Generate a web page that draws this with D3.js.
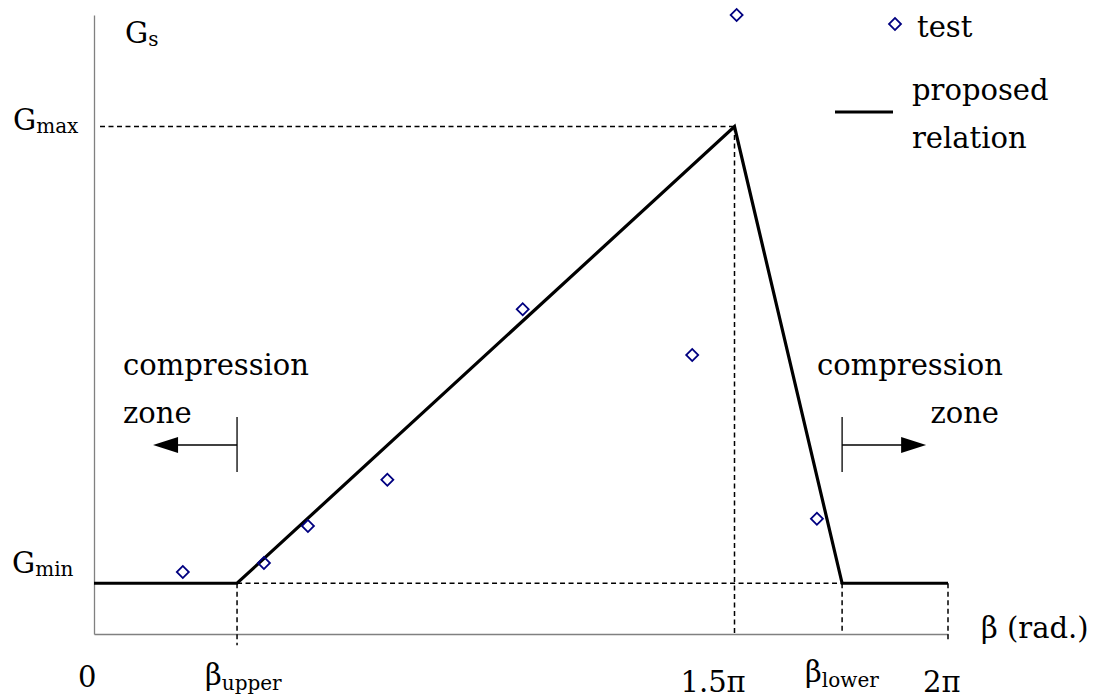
<!DOCTYPE html>
<html>
<head>
<meta charset="utf-8">
<script src="https://cdn.jsdelivr.net/npm/d3@7"></script>
<style>
  body { margin: 0; background: #fff; }
</style>
</head>
<body>
<div id="chart"></div>
<script>
// Test points: beta in units of pi, G in arbitrary units
var testBeta = [0.208, 0.398, 0.501, 0.687, 1.004, 1.401, 1.505, 1.693];
var testG = [1.22, 1.40, 2.13, 3.04, 6.40, 5.50, 12.2, 2.27];

// Proposed relation (beta in units of pi)
var betaUpper = 0.335;
var betaPeak = 1.5;
var betaLower = 1.752;
var betaEnd = 2;
var gMin = 1;
var gMax = 10;
var relationBeta = [0, betaUpper, betaPeak, betaLower, betaEnd];
var relationG = [gMin, gMin, gMax, gMin, gMin];

// x tick labels: main text and subscript
var xTickValues = [0, betaUpper, betaPeak, betaLower, betaEnd];
var xTickMain = ["0", "β", "1.5π", "β", "2π"];
var xTickSub = ["", "upper", "", "lower", ""];

var svgWidth = 1096;
var svgHeight = 700;
var serif = "DejaVu Serif";

var svg = d3.select("#chart")
    .append("svg")
    .attr("width", svgWidth)
    .attr("height", svgHeight);

var x = d3.scaleLinear().domain([0, 2]).range([94, 948]);
var y = d3.scaleLinear().domain([0, 12.2]).range([634, 15]);

// Axes (plain lines, no ticks)
var bottomAxis = d3.axisBottom(x).tickValues([]).tickSizeOuter(0);
var leftAxis = d3.axisLeft(y).tickValues([]).tickSizeOuter(0);

svg.append("g")
    .attr("transform", `translate(0, ${y(0)})`)
    .call(bottomAxis)
    .select(".domain")
    .attr("stroke", "#808080")
    .attr("stroke-width", 1.3);

svg.append("g")
    .attr("transform", `translate(${x(0)}, 0)`)
    .call(leftAxis)
    .select(".domain")
    .attr("stroke", "#808080")
    .attr("stroke-width", 1.3);

// Dashed guide lines
var guides = [
    [0, gMax, betaPeak, gMax],
    [betaPeak, gMax, betaPeak, 0],
    [betaUpper, gMin, betaLower, gMin],
    [betaUpper, gMin, betaUpper, -0.22],
    [betaLower, gMin, betaLower, 0],
    [betaEnd, gMin, betaEnd, -0.16]
];
svg.selectAll(".guide")
    .data(guides)
    .enter()
    .append("line")
    .attr("class", "guide")
    .attr("x1", d => x(d[0]) + (d[0] === 0 ? 6 : 0))
    .attr("y1", d => y(d[1]))
    .attr("x2", d => x(d[2]))
    .attr("y2", d => y(d[3]))
    .attr("stroke", "#000")
    .attr("stroke-width", 1.5)
    .attr("stroke-dasharray", "5,3.5");

// Proposed relation
var relation = relationBeta.map((b, i) => [b, relationG[i]]);
var line = d3.line()
    .x(d => x(d[0]))
    .y(d => y(d[1]));

svg.append("path")
    .datum(relation)
    .attr("d", line)
    .attr("fill", "none")
    .attr("stroke", "#000")
    .attr("stroke-width", 3.2)
    .attr("stroke-linejoin", "miter");

// Test points as open diamonds
var diamond = d3.symbol().type(d3.symbolSquare).size(72);
svg.selectAll(".pt")
    .data(testBeta)
    .enter()
    .append("path")
    .attr("class", "pt")
    .attr("d", diamond)
    .attr("transform", (d, i) => `translate(${x(d)}, ${y(testG[i])}) rotate(45)`)
    .attr("fill", "none")
    .attr("stroke", "#000080")
    .attr("stroke-width", 1.8);

// Helper for serif text
function addText(px, py, str, size) {
    return svg.append("text")
        .attr("x", px)
        .attr("y", py)
        .attr("font-family", serif)
        .attr("font-size", size)
        .attr("fill", "#000")
        .text(str);
}

// x tick labels
var fs = 29;
var subFs = 20;
var xLabelDx = [-16, -32, -54, -37, -25];
var xLabelY = [687, 685, 692, 682, 692];
xTickValues.forEach(function(v, i) {
    var t = addText(x(v) + xLabelDx[i], xLabelY[i], xTickMain[i], fs);
    if (xTickSub[i]) {
        t.append("tspan")
            .attr("font-size", subFs)
            .attr("dy", 5)
            .text(xTickSub[i]);
    }
});

// y labels
function subLabel(px, py, main, sub) {
    var t = addText(px, py, main, fs);
    t.append("tspan")
        .attr("font-size", subFs)
        .attr("dy", 3)
        .text(sub);
}
subLabel(13, 130, "G", "max");
subLabel(12, 573, "G", "min");
subLabel(125, 43, "G", "s");

addText(981, 638, "β (rad.)", fs);

// Compression zone annotations
function zoneArrow(bx, dir) {
    svg.append("line")
        .attr("x1", x(bx)).attr("x2", x(bx))
        .attr("y1", 417).attr("y2", 472)
        .attr("stroke", "#000").attr("stroke-width", 1.3);
    var tip = x(bx) + dir * 84;
    svg.append("line")
        .attr("x1", x(bx)).attr("x2", tip - dir * 20)
        .attr("y1", 445).attr("y2", 445)
        .attr("stroke", "#000").attr("stroke-width", 1.3);
    svg.append("path")
        .attr("d", d3.line()([[tip, 445], [tip - dir * 25, 437], [tip - dir * 25, 453]]) + "Z")
        .attr("fill", "#000");
}
zoneArrow(betaUpper, -1);
zoneArrow(betaLower, 1);

addText(123, 375, "compression", fs);
addText(123, 423, "zone", fs);
addText(817, 375, "compression", fs);
addText(999, 423, "zone", fs).attr("text-anchor", "end");

// Legend
svg.append("path")
    .attr("d", diamond)
    .attr("transform", "translate(895, 24) rotate(45)")
    .attr("fill", "none")
    .attr("stroke", "#000080")
    .attr("stroke-width", 1.8);
addText(917, 37, "test", fs);

svg.append("line")
    .attr("x1", 835).attr("x2", 893)
    .attr("y1", 112).attr("y2", 112)
    .attr("stroke", "#000").attr("stroke-width", 3.2);
addText(912, 100, "proposed", fs);
addText(912, 148, "relation", fs);
</script>
</body>
</html>
